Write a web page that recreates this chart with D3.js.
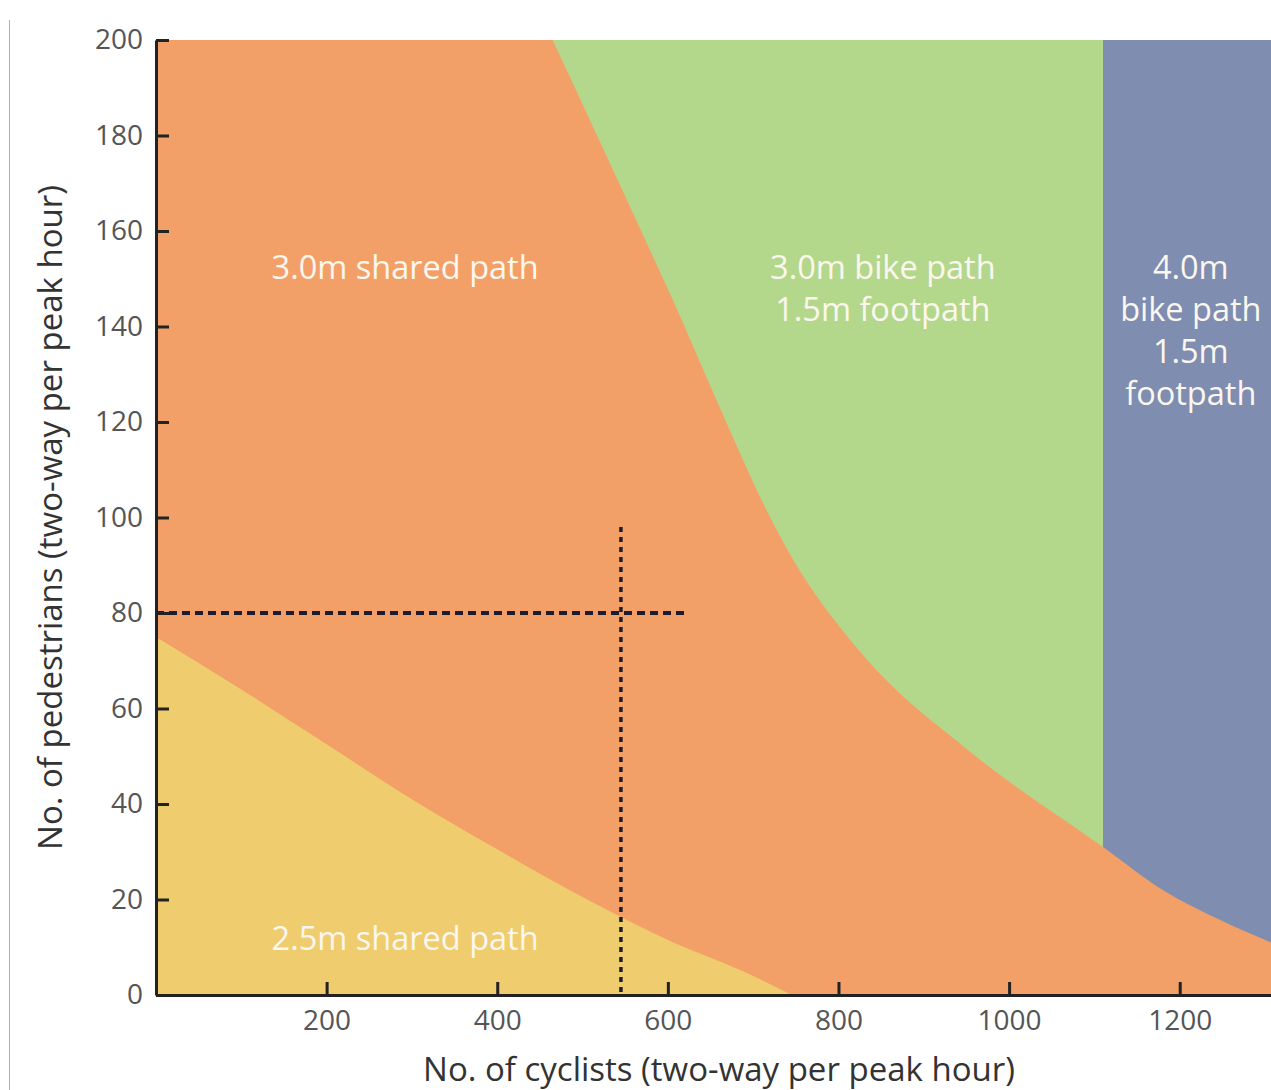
<!DOCTYPE html>
<html>
<head>
<meta charset="utf-8">
<script src="https://cdn.jsdelivr.net/npm/d3@7/dist/d3.min.js"></script>
<style>
  html, body { margin: 0; padding: 0; background: #ffffff; }
  svg { display: block; }
</style>
</head>
<body>
<svg id="chart" width="1271" height="1090"></svg>
<script>
// ---- data ----
const xTicks = [200, 400, 600, 800, 1000, 1200];
const yTicks = [0, 20, 40, 60, 80, 100, 120, 140, 160, 180, 200];

// boundary between 2.5m shared path (below) and 3.0m shared path (above)
const lowerBoundaryX = [0, 100, 200, 300, 400, 500, 600, 700, 745];
const lowerBoundaryY = [75, 64, 52.5, 41, 30.5, 20.5, 11.5, 4, 0];

// boundary between 3.0m shared path (below) and separated paths (above)
const upperBoundaryX = [465, 579, 606, 657, 720, 741, 825, 954, 1110, 1180, 1250, 1307];
const upperBoundaryY = [200, 156, 145.5, 124.6, 100, 93, 72, 51, 31, 22, 15.5, 11];

// cyclist volume where 3.0m bike path switches to 4.0m bike path
const bikePathSplit = 1110;

// worked example (dashed guide lines)
const exampleCyclists = 545;
const examplePedestrians = 80;
const exampleHLineEnd = 621;
const exampleVLineTop = 98;

const regionLabels = [
  { lines: ["3.0m shared path"], x: 292, y: 150 },
  { lines: ["2.5m shared path"], x: 292, y: 9.5 },
  { lines: ["3.0m bike path", "1.5m footpath"], x: 852, y: 150 },
  { lines: ["4.0m", "bike path", "1.5m", "footpath"], x: 1213, y: 150 }
];

// ---- layout ----
const svg = d3.select("#chart");
const mLeft = 156, mRight = 1271, mTop = 40, mBottom = 995;
const xMax = 1307;

const x = d3.scaleLinear().domain([0, xMax]).range([mLeft, mRight]);
const y = d3.scaleLinear().domain([0, 200]).range([mBottom, mTop]);

const colors = {
  orange: "#f3a068",
  yellow: "#efcc6d",
  green: "#b4d88b",
  blue: "#7f8db0"
};

// page border line at far left
svg.append("line")
  .attr("x1", 9.5).attr("x2", 9.5).attr("y1", 20).attr("y2", 1090)
  .attr("stroke", "#b0b0b0").attr("stroke-width", 1);

const plot = svg.append("g");

// base: 3.0m shared path
plot.append("rect")
  .attr("x", x(0)).attr("y", y(200))
  .attr("width", x(xMax) - x(0)).attr("height", y(0) - y(200))
  .attr("fill", colors.orange);

const lowerPts = lowerBoundaryX.map((v, i) => ({ x: v, y: lowerBoundaryY[i] }));
const upperPts = upperBoundaryX.map((v, i) => ({ x: v, y: upperBoundaryY[i] }));

// yellow region (below lower boundary)
plot.append("path")
  .datum(lowerPts)
  .attr("fill", colors.yellow)
  .attr("d", d3.area().curve(d3.curveMonotoneX)
    .x(d => x(d.x)).y0(y(0)).y1(d => y(d.y)));

// green and blue regions (above upper boundary)
const upperArea = d3.area().curve(d3.curveMonotoneX)
  .x(d => x(d.x)).y0(y(200)).y1(d => y(d.y));

svg.append("clipPath").attr("id", "clipGreen")
  .append("rect").attr("x", x(0)).attr("y", y(200))
  .attr("width", x(bikePathSplit) - x(0)).attr("height", y(0) - y(200));
svg.append("clipPath").attr("id", "clipBlue")
  .append("rect").attr("x", x(bikePathSplit)).attr("y", y(200))
  .attr("width", x(xMax) - x(bikePathSplit)).attr("height", y(0) - y(200));

plot.append("path").datum(upperPts)
  .attr("clip-path", "url(#clipGreen)")
  .attr("fill", colors.green).attr("d", upperArea);
plot.append("path").datum(upperPts)
  .attr("clip-path", "url(#clipBlue)")
  .attr("fill", colors.blue).attr("d", upperArea);

// region labels
const labelFont = "'Open Sans', Lato, sans-serif";
regionLabels.forEach(lab => {
  const t = plot.append("text")
    .attr("x", x(lab.x)).attr("y", y(lab.y))
    .attr("text-anchor", "middle")
    .attr("fill", "#fbf7ef")
    .attr("font-family", labelFont)
    .attr("font-size", 32.5);
  lab.lines.forEach((ln, i) => {
    t.append("tspan").attr("x", x(lab.x)).attr("dy", i === 0 ? 0 : 42).text(ln);
  });
});

// dashed guide lines
plot.append("line")
  .attr("x1", x(0)).attr("x2", x(exampleHLineEnd))
  .attr("y1", y(examplePedestrians)).attr("y2", y(examplePedestrians))
  .attr("stroke", "#1c1c2a").attr("stroke-width", 4)
  .attr("stroke-dasharray", "8,5");
plot.append("line")
  .attr("x1", x(exampleCyclists)).attr("x2", x(exampleCyclists))
  .attr("y1", y(exampleVLineTop)).attr("y2", y(0))
  .attr("stroke", "#1c1c2a").attr("stroke-width", 3.5)
  .attr("stroke-dasharray", "5,5");

// axes
const axisColor = "#222";
const tickFont = "'Open Sans', Lato, sans-serif";
const fmt = d3.format("d");

const xAxis = svg.append("g").attr("transform", `translate(0,${mBottom})`)
  .call(d3.axisBottom(x).tickValues(xTicks).tickFormat(fmt)
    .tickSizeInner(-13).tickSizeOuter(0).tickPadding(10));
const yAxis = svg.append("g").attr("transform", `translate(${mLeft},0)`)
  .call(d3.axisLeft(y).tickValues(yTicks).tickFormat(fmt)
    .tickSizeInner(-13).tickSizeOuter(0).tickPadding(13));

[xAxis, yAxis].forEach(ax => {
  ax.select(".domain").attr("stroke", axisColor).attr("stroke-width", 3);
  ax.selectAll(".tick line").attr("stroke", axisColor).attr("stroke-width", 3);
  ax.selectAll(".tick text")
    .attr("fill", "#555")
    .attr("font-family", tickFont)
    .attr("font-size", 28);
});
xAxis.selectAll(".tick text").attr("dy", "0.9em");

// axis titles
svg.append("text")
  .attr("x", 719).attr("y", 1081)
  .attr("text-anchor", "middle")
  .attr("fill", "#333")
  .attr("font-family", labelFont)
  .attr("font-size", 33)
  .text("No. of cyclists (two-way per peak hour)");

svg.append("text")
  .attr("transform", `translate(62,${(mTop + mBottom) / 2}) rotate(-90)`)
  .attr("text-anchor", "middle")
  .attr("fill", "#333")
  .attr("font-family", labelFont)
  .attr("font-size", 33)
  .text("No. of pedestrians (two-way per peak hour)");
</script>
</body>
</html>
